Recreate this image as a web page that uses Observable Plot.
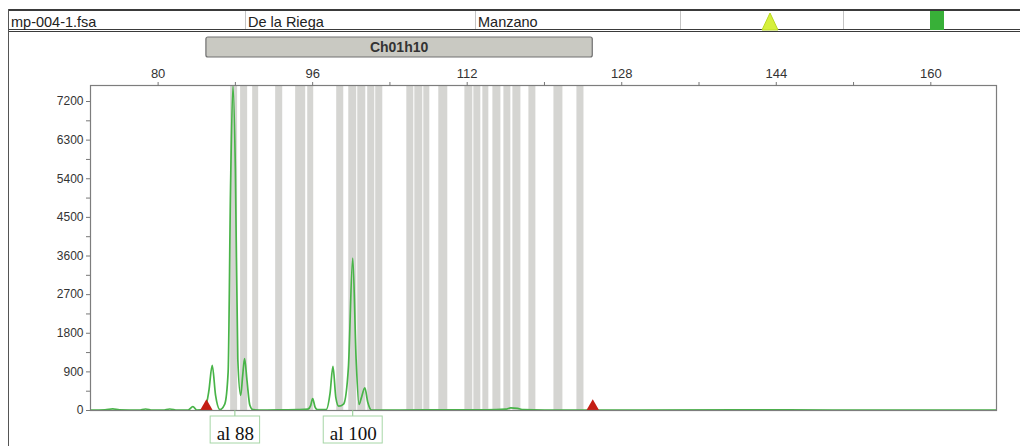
<!DOCTYPE html>
<html><head><meta charset="utf-8">
<script src="https://cdn.jsdelivr.net/npm/d3@7"></script>
<script src="https://cdn.jsdelivr.net/npm/@observablehq/plot@0.6"></script>
<style>
body{margin:0;background:#fff;font-family:"Liberation Sans",Arial,sans-serif;}
#wrap{position:relative;width:1020px;height:446px;overflow:hidden;}
#header{position:relative;height:34px;}
#hdr-row{position:absolute;left:8px;top:9px;width:1012px;height:18px;border-top:2px solid #3a3a3a;border-bottom:3px double #3a3a3a;}
.cell{position:absolute;top:0;height:18px;line-height:18px;font-size:14.5px;color:#222;white-space:nowrap;}
.sep{position:absolute;top:0;width:1px;height:18px;background:#c4c4c4;}
#leftline{position:absolute;left:8px;top:9px;width:1px;height:437px;background:#555;}
</style></head>
<body>
<div id="wrap">
  <div id="header"><div id="hdr-row"></div></div>
  <div id="chart"></div>
  <div id="leftline"></div>
</div>
<script>
// ---- data ----
const headerTexts = ["mp-004-1.fsa", "De la Riega", "Manzano"];
const binName = "Ch01h10";
const binRange = [85, 125];
const binStart = [87.51, 88.54, 89.79, 92.17, 94.24, 95.49, 98.49, 99.74, 100.67, 101.70, 102.53, 105.75, 106.58, 107.51, 109.06, 111.76, 112.69, 113.62, 114.66, 115.80, 116.73, 118.39, 120.98, 123.36];
const binEnd   = [88.23, 89.27, 90.41, 92.90, 95.28, 96.11, 99.22, 100.56, 101.50, 102.43, 103.26, 106.47, 107.40, 108.13, 109.99, 112.58, 113.41, 114.24, 115.49, 116.52, 117.56, 119.11, 121.91, 124.09];
const traceX = [73, 74.5, 75.3, 76, 78, 78.7, 79.4, 80.5, 81.2, 82, 83.1, 83.6, 84.0, 84.8, 85.25, 85.6, 85.95, 86.4, 86.9, 87.25, 87.5, 87.75, 88.0, 88.25, 88.55, 88.75, 88.95, 89.2, 89.5, 89.8, 91, 93, 94.5, 95.5, 95.8, 96.0, 96.25, 96.5, 97.4, 97.8, 98.1, 98.4, 98.7, 99.2, 99.7, 100.15, 100.5, 100.8, 101.05, 101.4, 101.7, 102.1, 105, 110, 114, 116, 116.5, 117.2, 117.8, 120, 130, 140, 150, 160, 166.8];
const traceY = [10, 15, 40, 15, 10, 35, 10, 10, 35, 10, 10, 90, 10, 20, 450, 1050, 350, 20, 150, 900, 5200, 7560, 5600, 1200, 350, 800, 1210, 700, 120, 20, 10, 15, 20, 30, 120, 280, 80, 20, 20, 400, 1030, 300, 100, 150, 1000, 3550, 1200, 140, 300, 530, 200, 10, 10, 15, 15, 30, 60, 50, 20, 10, 10, 15, 10, 12, 10];
const markerX = [85, 125];
const alleleX = [88, 100.2];
const alleleLabels = ["al 88", "al 100"];
const xMajor = [80, 96, 112, 128, 144, 160];
const xMinor = [88, 104, 120, 136, 152];
const yMajor = [0, 900, 1800, 2700, 3600, 4500, 5400, 6300, 7200];
const yMinor = [450, 1350, 2250, 3150, 4050, 4950, 5850, 6750];
const xDomain = [73, 166.8];
const yDomain = [0, 7573];

// ---- header ----
const row = document.getElementById("hdr-row");
const cellLeft = [3, 240, 470];
headerTexts.forEach((t, i) => {
  const d = document.createElement("div");
  d.className = "cell"; d.style.left = cellLeft[i] + "px"; d.style.top = "2px"; d.textContent = t;
  row.appendChild(d);
});
[237, 467, 672, 835].forEach(x => {
  const s = document.createElement("div"); s.className = "sep"; s.style.left = x + "px"; row.appendChild(s);
});
const hs = d3.select(row).append("svg").attr("width", 1012).attr("height", 20)
  .style("position", "absolute").style("left", 0).style("top", 0);
hs.append("path").attr("d", "M754,19 L762,2 L770,19 Z").attr("fill", "#d6f03a").attr("stroke", "#b8d820");
hs.append("rect").attr("x", 922).attr("y", 0).attr("width", 14).attr("height", 19).attr("fill", "#38b038");

// ---- chart ----
const bins = binStart.map((s, i) => ({s, e: binEnd[i]}));
const trace = traceX.map((x, i) => ({x, y: traceY[i]}));

const chart = Plot.plot({
  width: 1020, height: 412,
  marginLeft: 90, marginRight: 24, marginTop: 51, marginBottom: 36,
  style: {fontFamily: "Liberation Sans, Arial, sans-serif", background: "transparent", overflow: "visible"},
  x: {domain: xDomain, label: null},
  y: {domain: yDomain, label: null},
  marks: [
    Plot.rect(bins, {x1: "s", x2: "e", y1: yDomain[0], y2: yDomain[1], fill: "#d5d5d2"}),
    Plot.line(trace, {x: "x", y: "y", stroke: "#48b448", strokeWidth: 1.7, curve: "monotone-x", clip: true}),
    Plot.dot(markerX, {x: d => d, y: 0, symbol: "triangle", r: 4.6, fill: "#c41e14", stroke: "none", dy: -4}),
    Plot.frame({stroke: "#7d7d7d", strokeWidth: 1.2}),
    Plot.axisX({anchor: "top", ticks: xMajor, tickSize: 4, tickPadding: 4, fontSize: 13, stroke: "#777", color: "#333", label: null}),
    Plot.axisX({anchor: "top", ticks: xMinor, tickSize: 4, tickFormat: () => "", stroke: "#777", label: null}),
    Plot.axisY({anchor: "left", ticks: yMajor, tickSize: 4, tickPadding: 3, fontSize: 12, stroke: "#777", color: "#333", tickFormat: d => String(d), label: null}),
    Plot.axisY({anchor: "left", ticks: yMinor, tickSize: 4, tickFormat: () => "", stroke: "#777", label: null}),
    Plot.text(alleleLabels, {x: (d, i) => alleleX[i], y: 0, text: d => d, dy: 23, fontFamily: "Liberation Serif, Times New Roman, serif", fontSize: 19, fill: "#111"})
  ]
});
document.getElementById("chart").appendChild(chart);

// annotations positioned with the library's scales
const sx = chart.scale("x"), sy = chart.scale("y");
const svg = d3.select(chart);
const g = svg.append("g");
const bx1 = sx.apply(binRange[0]), bx2 = sx.apply(binRange[1]);
g.append("rect").attr("x", bx1).attr("y", 3).attr("width", bx2 - bx1).attr("height", 20).attr("rx", 2)
  .attr("fill", "#c9c9c2").attr("stroke", "#707070").attr("stroke-width", 1.2);
g.append("text").attr("x", (bx1 + bx2) / 2).attr("y", 18).attr("text-anchor", "middle")
  .attr("font-size", 14).attr("font-weight", "bold").attr("fill", "#333").text(binName);

// allele label boxes, inserted beneath the label texts
const texts = svg.selectAll("text").filter(function() { return alleleLabels.includes(this.textContent); }).nodes();
if (texts.length) {
  const textGroup = texts[0].closest("g[aria-label]") || texts[0].parentNode;
  const boxG = document.createElementNS("http://www.w3.org/2000/svg", "g");
  textGroup.parentNode.insertBefore(boxG, textGroup);
  const bg = d3.select(boxG);
  texts.forEach((t, i) => {
    const bb = t.getBBox();
    const cx = sx.apply(alleleX[i]);
    const y0 = sy.apply(0);
    const top = y0 + 6;
    const w = bb.width + 12;
    bg.append("line").attr("x1", cx).attr("x2", cx).attr("y1", y0).attr("y2", top).attr("stroke", "#8cc88c");
    bg.append("rect").attr("x", cx - w / 2).attr("y", top).attr("width", w).attr("height", 27)
      .attr("fill", "#fff").attr("stroke", "#a6d6a6");
  });
}
</script>
</body></html>
